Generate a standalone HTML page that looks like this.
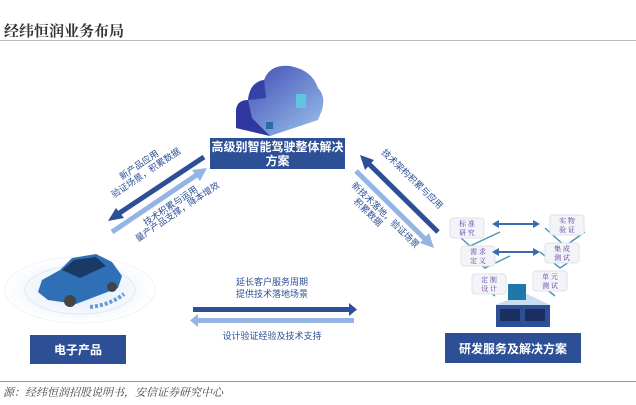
<!DOCTYPE html>
<html><head><meta charset="utf-8"><style>
html,body{margin:0;padding:0;background:#fff;}
body{width:636px;height:405px;overflow:hidden;position:relative;font-family:"Liberation Sans","Noto Sans CJK SC",sans-serif;}
</style></head><body>
<svg width="636" height="405" viewBox="0 0 636 405" xmlns="http://www.w3.org/2000/svg" style="position:absolute;left:0;top:0">
<defs>
<linearGradient id="cg" x1="0" y1="0" x2="1" y2="1"><stop offset="0" stop-color="#3a44b0"/><stop offset="1" stop-color="#9cc4ec"/></linearGradient>
<radialGradient id="rg"><stop offset="0" stop-color="#dbe9f7"/><stop offset="1" stop-color="#fff"/></radialGradient>
</defs>
<text x="4" y="36" font-family="'Noto Serif CJK SC',serif" font-size="15" font-weight="bold" fill="#333">经纬恒润业务布局</text>
<line x1="0" y1="40.5" x2="636" y2="40.5" stroke="#bbb" stroke-width="1"/>
<!-- cloud -->
<g transform="translate(0,0)">
<path d="M236,128 L236,112 Q236,100 248,100 Q250,82 264,80 Q270,64 290,66 Q312,70 318,88 Q326,96 322,110 L318,120 L270,136 Z" fill="url(#cg)"/>
<path d="M236,128 L236,112 Q236,100 248,100 L252,118 L270,136 Z" fill="#3038a0"/>
<path d="M248,100 Q250,82 264,80 L266,98 Z" fill="#3540a8"/>
<rect x="296" y="94" width="10" height="14" fill="#5ec6e0"/>
<rect x="266" y="122" width="7" height="7" fill="#2a6aa8"/>
</g>
<!-- top box -->
<rect x="210" y="138" width="135" height="31" fill="#2c4f96"/>
<text x="277.5" y="151" text-anchor="middle" font-size="12" font-weight="bold" fill="#fff">高级别智能驾驶整体解决</text>
<text x="277.5" y="165" text-anchor="middle" font-size="12" font-weight="bold" fill="#fff">方案</text>
<!-- left diagonal arrows -->
<line x1="204" y1="157" x2="118" y2="214" stroke="#2c4f96" stroke-width="5"/>
<polygon points="108,221 116,208 124,218" fill="#2c4f96"/>
<line x1="112" y1="232" x2="198" y2="174" stroke="#94b4e4" stroke-width="5"/>
<polygon points="207,168 192,170 200,181" fill="#94b4e4"/>
<g font-size="9" fill="#2c4f96">
<text transform="translate(122,180) rotate(-34)">新产品应用</text>
<text transform="translate(114,198) rotate(-34)">验证场景，积累数据</text>
<text transform="translate(146,226) rotate(-34)">技术积累与运用</text>
<text transform="translate(138,242) rotate(-34)">量产产品支撑，降本增效</text>
</g>
<!-- right diagonal arrows -->
<line x1="438" y1="232" x2="368" y2="163" stroke="#2c4f96" stroke-width="5"/>
<polygon points="360,155 374,160 365,170" fill="#2c4f96"/>
<line x1="356" y1="171" x2="426" y2="240" stroke="#94b4e4" stroke-width="5"/>
<polygon points="434,248 420,243 429,233" fill="#94b4e4"/>
<g font-size="9" fill="#2c4f96">
<text transform="translate(381,153) rotate(44)">技术架构积累与应用</text>
<text transform="translate(351,186) rotate(44)">新技术落地，验证场景</text>
<text transform="translate(353,202) rotate(44)">积累数据</text>
</g>
<!-- car -->
<ellipse cx="80" cy="290" rx="75" ry="33" fill="url(#rg)" stroke="#eef3fa"/>
<ellipse cx="80" cy="290" rx="55" ry="24" fill="none" stroke="#dde8f5"/>
<path d="M38,292 L42,280 L60,270 L72,258 L96,254 L112,262 L122,276 L118,288 L76,304 L48,300 Z" fill="#2f6fb6"/>
<path d="M62,270 L74,260 L96,257 L106,266 L80,278 Z" fill="#1a3a66"/>
<circle cx="70" cy="301" r="6" fill="#444"/>
<circle cx="112" cy="287" r="5" fill="#444"/>
<path d="M90,307 Q110,305 124,294" fill="none" stroke="#6a9ad4" stroke-width="4" stroke-dasharray="3,2"/>
<rect x="30" y="335" width="96" height="29" fill="#2c4f96"/>
<text x="78" y="354" text-anchor="middle" font-size="12" font-weight="bold" fill="#fff">电子产品</text>
<!-- horizontal arrows -->
<g font-size="9" fill="#2c4f96" text-anchor="middle">
<text x="272" y="285">延长客户服务周期</text>
<text x="272" y="297">提供技术落地场景</text>
<text x="272" y="339">设计验证经验及技术支持</text>
</g>
<rect x="193" y="307" width="156" height="5" fill="#2c4f96"/>
<polygon points="349,303 357,309.5 349,316" fill="#2c4f96"/>
<rect x="198" y="318" width="156" height="5" fill="#94b4e4"/>
<polygon points="198,314 190,320.5 198,327" fill="#94b4e4"/>
<!-- V model -->
<g stroke="#4a9ab0" stroke-width="1.5" fill="none">
<polyline points="450,228 470,246 500,232"/>
<polyline points="465,252 485,268 510,256"/>
<polyline points="475,280 495,296"/>
<polyline points="545,228 565,246 585,232"/>
<polyline points="540,252 560,268 578,256"/>
<polyline points="535,280 555,296"/>
</g>
<g fill="#f2f4f8" stroke="#dde2ea">
<rect x="450" y="218" width="34" height="20" rx="3"/>
<rect x="461" y="246" width="34" height="20" rx="3"/>
<rect x="472" y="274" width="34" height="20" rx="3"/>
<rect x="550" y="215" width="34" height="20" rx="3"/>
<rect x="545" y="243" width="34" height="20" rx="3"/>
<rect x="533" y="271" width="34" height="20" rx="3"/>
</g>
<g font-size="7" fill="#5a3aa0" text-anchor="middle" font-family="'Noto Serif CJK SC',serif">
<text x="467" y="226">标 准</text><text x="467" y="235">研 究</text>
<text x="478" y="254">需 求</text><text x="478" y="263">定 义</text>
<text x="489" y="282">定 制</text><text x="489" y="291">设 计</text>
<text x="567" y="223">实 物</text><text x="567" y="232">验 证</text>
<text x="562" y="251">集 成</text><text x="562" y="260">测 试</text>
<text x="550" y="279">单 元</text><text x="550" y="288">测 试</text>
</g>
<g fill="#3a6ab0">
<rect x="496" y="223" width="40" height="2"/>
<polygon points="492,224 499,220 499,228"/><polygon points="540,224 533,220 533,228"/>
<rect x="496" y="251" width="40" height="2"/>
<polygon points="492,252 499,248 499,256"/><polygon points="540,252 533,248 533,256"/>
</g>
<!-- workstation -->
<polygon points="495,305 525,293 550,305 520,318" fill="#c9dcf0"/>
<rect x="496" y="305" width="54" height="22" fill="#2c4f96"/>
<rect x="500" y="309" width="20" height="12" fill="#1a2f60"/>
<rect x="525" y="309" width="20" height="12" fill="#1a2f60"/>
<rect x="508" y="284" width="18" height="16" fill="#1f78a8"/>
<rect x="445" y="333" width="136" height="30" fill="#2c4f96"/>
<text x="513" y="353" text-anchor="middle" font-size="12" font-weight="bold" fill="#fff">研发服务及解决方案</text>
<!-- footer -->
<line x1="0" y1="381.5" x2="636" y2="381.5" stroke="#999" stroke-width="1"/>
<text x="3" y="396" font-size="11" font-style="italic" fill="#444" font-family="'Noto Serif CJK SC',serif">源：经纬恒润招股说明书，安信证券研究中心</text>
</svg>
</body></html>
